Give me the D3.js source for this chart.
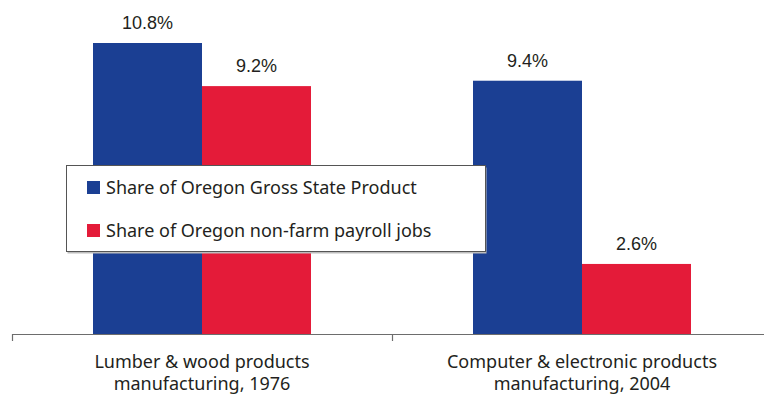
<!DOCTYPE html>
<html><head><meta charset="utf-8">
<script src="https://cdn.jsdelivr.net/npm/d3@7"></script>
<style>body{margin:0;background:#fff}svg{display:block}</style>
</head><body>
<script>
const categories = [["Lumber & wood products", "manufacturing, 1976"], ["Computer & electronic products", "manufacturing, 2004"]];
const seriesNames = ["Share of Oregon Gross State Product", "Share of Oregon non-farm payroll jobs"];
const gspShare = [10.8, 9.4];
const jobsShare = [9.2, 2.6];
const colors = ["#1b3f93", "#e41b39"];

const W = 764, H = 394;
const svg = d3.select("body").append("svg").attr("width", W).attr("height", H);
const base = 334;
const x = d3.scaleBand().domain(d3.range(categories.length)).range([12, 772]).paddingInner(0).paddingOuter(0);
const inner = d3.scaleBand().domain([0, 1]).range([0, 218]);
const y = d3.scaleLinear().domain([0, 10.8]).range([base, 43]);
const series = [gspShare, jobsShare];

series.forEach((vals, s) => {
  vals.forEach((v, i) => {
    const x0 = x(i) + (x.bandwidth() - 218) / 2 + inner(s);
    svg.append("rect").attr("x", x0).attr("y", y(v)).attr("width", inner.bandwidth()).attr("height", base - y(v)).attr("fill", colors[s]);
    svg.append("text").attr("x", x0 + inner.bandwidth() / 2).attr("y", y(v) - 14)
      .attr("text-anchor", "middle").attr("font-family", "Liberation Sans, Arial, sans-serif")
      .attr("font-size", 18).attr("fill", "#231f20").text(v.toFixed(1) + "%");
  });
});

// axis
const ax = svg.append("g");
ax.append("line").attr("x1", 12).attr("x2", 772).attr("y1", base + 0.5).attr("y2", base + 0.5).attr("stroke", "#6d6d6d").attr("stroke-width", 1.2);
[0, 1, 2].forEach(k => {
  const tx = k < 2 ? x(k) : 772;
  ax.append("line").attr("x1", Math.round(tx) + 0.5).attr("x2", Math.round(tx) + 0.5).attr("y1", base).attr("y2", base + 7).attr("stroke", "#6d6d6d").attr("stroke-width", 1.2);
});
categories.forEach((lines, i) => {
  const t = svg.append("text").attr("text-anchor", "middle").attr("font-family", "Noto Sans, sans-serif")
    .attr("font-size", 18).attr("fill", "#231f20");
  lines.forEach((l, j) => t.append("tspan").attr("x", x(i) + x.bandwidth() / 2).attr("y", 368 + j * 22).text(l));
});

// legend
const lg = svg.append("g");
lg.append("rect").attr("x", 67.5).attr("y", 167.5).attr("width", 419).attr("height", 86).attr("fill", "#bdbdbd");
lg.append("rect").attr("x", 66.5).attr("y", 165.5).attr("width", 419).attr("height", 86).attr("fill", "#fff").attr("stroke", "#555").attr("stroke-width", 1);
seriesNames.forEach((n, s) => {
  const yy = 181 + s * 43;
  lg.append("rect").attr("x", 87).attr("y", yy).attr("width", 13).attr("height", 13).attr("fill", colors[s]);
  lg.append("text").attr("x", 106).attr("y", yy + 13).attr("font-family", "Noto Sans, sans-serif").attr("font-size", 18).attr("fill", "#231f20").text(n);
});
</script>
</body></html>
